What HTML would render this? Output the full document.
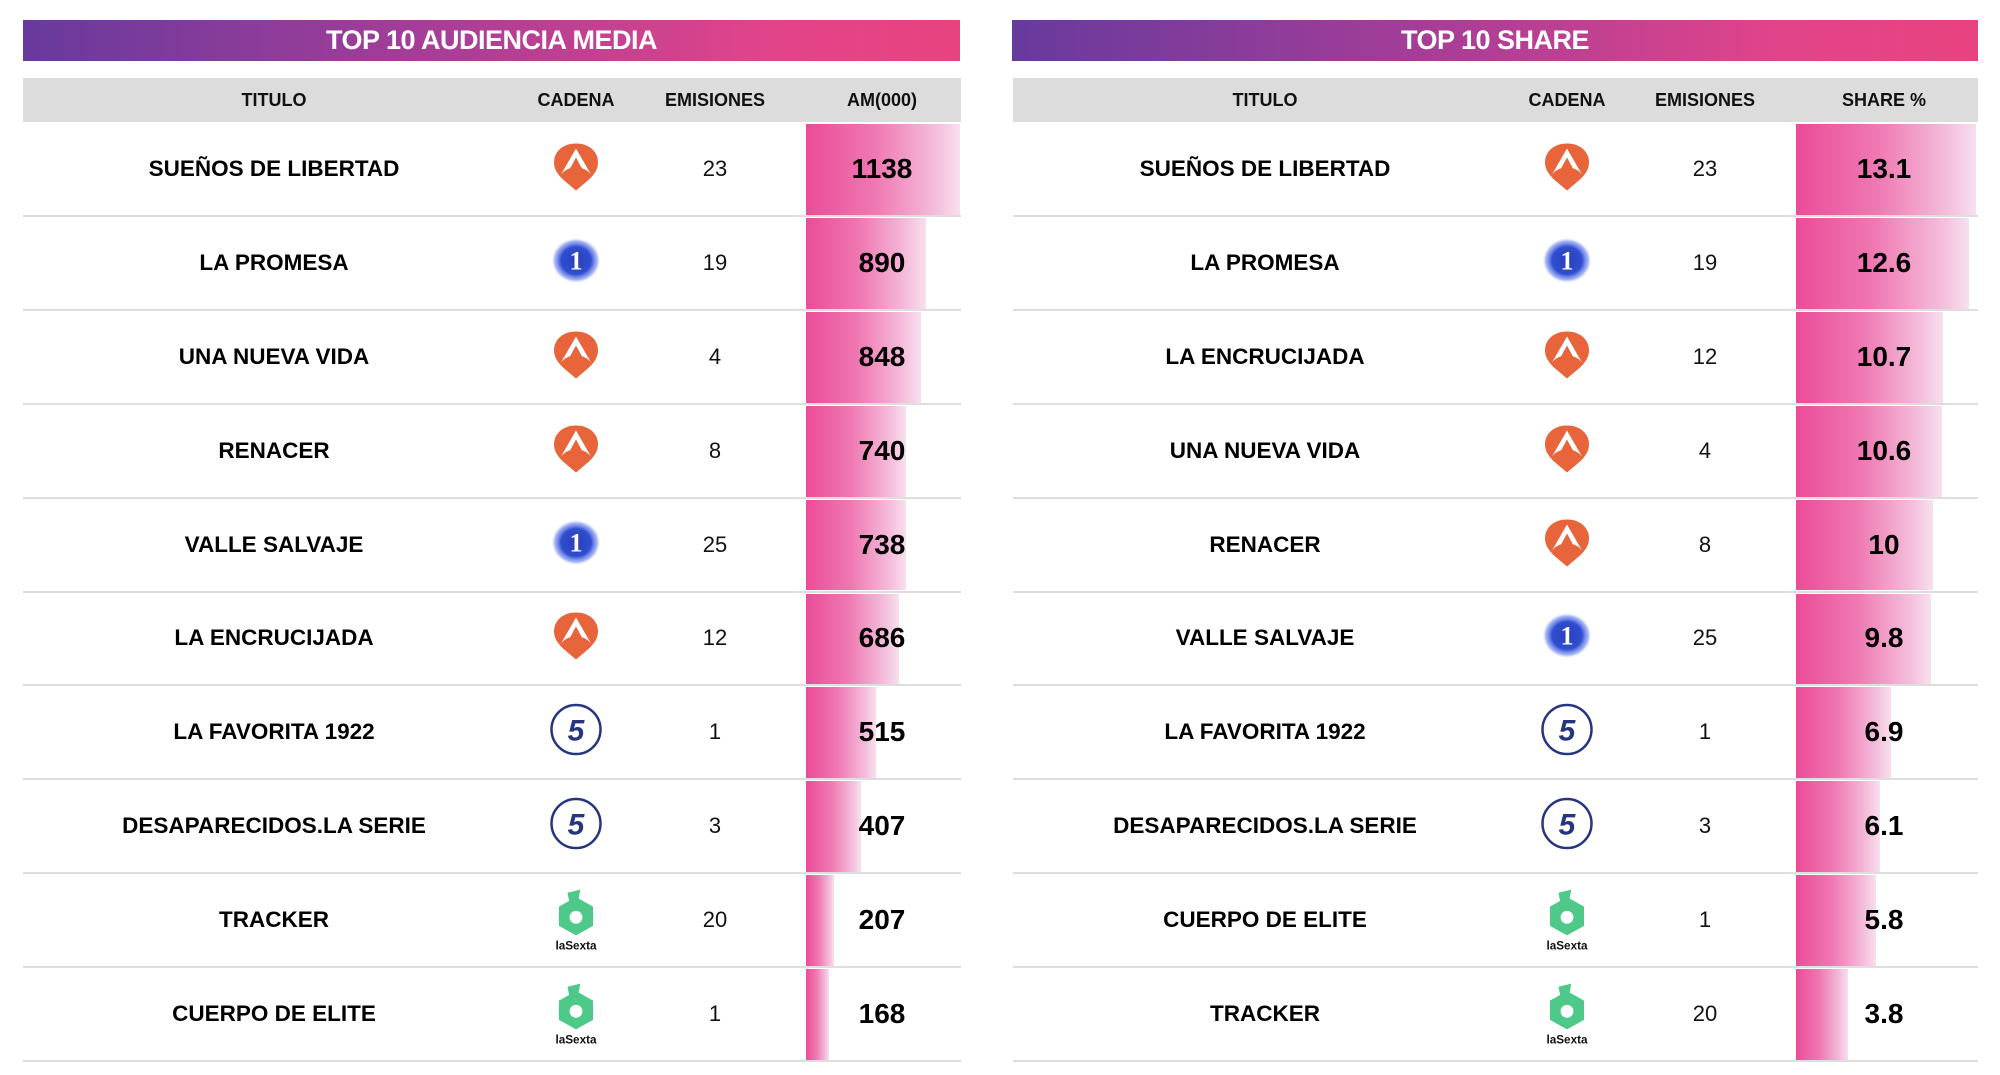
<!DOCTYPE html>
<html><head><meta charset="utf-8"><style>
html,body{margin:0;padding:0;background:#fff;width:2000px;height:1075px;overflow:hidden;font-family:"Liberation Sans",sans-serif;}
.a{position:absolute}
.tb{height:41px;top:20px;background:linear-gradient(90deg,#673a9d 0%,#a13d98 40%,#e2448a 80%,#e8437f 100%);color:#fff;font-weight:bold;font-size:27px;text-align:center;line-height:41px;letter-spacing:-0.5px}
.hd{height:44px;top:78px;background:#dcdcdc}
.hx{font-weight:bold;font-size:18px;color:#111;top:78px;line-height:44px;transform:translateX(-50%);white-space:nowrap}
.sep{height:2px;background:#dedede}
.bar{background:linear-gradient(90deg,#eb4c98 0%,#ef78b2 45%,#f4bfdc 85%,#f8e0ee 100%)}
.t{font-weight:bold;font-size:22.5px;color:#000;transform:translate(-50%,-50%);white-space:nowrap}
.e{font-size:22px;color:#111;transform:translate(-50%,-50%)}
.v{font-weight:bold;font-size:28px;color:#000;transform:translate(-50%,-50%)}
.lg{transform:translate(-50%,-50%)}
</style></head><body>
<div class="a tb" style="left:23px;width:937px">TOP 10 AUDIENCIA MEDIA</div>
<div class="a tb" style="left:1012px;width:966px">TOP 10 SHARE</div>
<div class="a hd" style="left:23px;width:938px"></div>
<div class="a hd" style="left:1013px;width:965px"></div>
<div class="a hx" style="left:274px">TITULO</div>
<div class="a hx" style="left:576px">CADENA</div>
<div class="a hx" style="left:715px">EMISIONES</div>
<div class="a hx" style="left:882px">AM(000)</div>
<div class="a hx" style="left:1265px">TITULO</div>
<div class="a hx" style="left:1567px">CADENA</div>
<div class="a hx" style="left:1705px">EMISIONES</div>
<div class="a hx" style="left:1884px">SHARE %</div>
<div id="c"></div>
<script>
var L=[["SUEÑOS DE LIBERTAD","a3",23,1138],["LA PROMESA","t1",19,890],["UNA NUEVA VIDA","a3",4,848],["RENACER","a3",8,740],["VALLE SALVAJE","t1",25,738],["LA ENCRUCIJADA","a3",12,686],["LA FAVORITA 1922","t5",1,515],["DESAPARECIDOS.LA SERIE","t5",3,407],["TRACKER","l6",20,207],["CUERPO DE ELITE","l6",1,168]];
var R=[["SUEÑOS DE LIBERTAD","a3",23,"13.1",13.1],["LA PROMESA","t1",19,"12.6",12.6],["LA ENCRUCIJADA","a3",12,"10.7",10.7],["UNA NUEVA VIDA","a3",4,"10.6",10.6],["RENACER","a3",8,"10",10],["VALLE SALVAJE","t1",25,"9.8",9.8],["LA FAVORITA 1922","t5",1,"6.9",6.9],["DESAPARECIDOS.LA SERIE","t5",3,"6.1",6.1],["CUERPO DE ELITE","l6",1,"5.8",5.8],["TRACKER","l6",20,"3.8",3.8]];
var gid=0;
function logo(k){
if(k=="a3")return '<svg width="48" height="50" viewBox="0 0 48 50"><path d="M24 2C11 2 2 10 2 21c0 7 4 12 9 17l13 11 13-11c5-5 9-10 9-17C46 10 37 2 24 2z" fill="#e8643a"/><path d="M24 7L9 33c4-5 9-7 15-7s11 2 15 7z" fill="#fff"/><path d="M24 16l-6 11h12z" fill="#e8643a"/></svg>';
if(k=="t1"){gid++;return '<svg width="52" height="48" viewBox="0 0 52 48"><defs><radialGradient id="g'+gid+'" cx="50%" cy="50%" r="50%"><stop offset="0" stop-color="#2a3dbd"/><stop offset=".6" stop-color="#2f4fd0"/><stop offset=".85" stop-color="#6f86f0" stop-opacity=".6"/><stop offset="1" stop-color="#fff" stop-opacity="0"/></radialGradient></defs><ellipse cx="26" cy="24" rx="25" ry="23" fill="url(#g'+gid+')"/><text x="26" y="33" text-anchor="middle" font-family="Liberation Serif,serif" font-weight="bold" font-size="26" fill="#fff">1</text></svg>';}
if(k=="t5")return '<svg width="54" height="54" viewBox="0 0 54 54"><circle cx="27" cy="27" r="24.5" fill="#fff" stroke="#26357e" stroke-width="2.5"/><text x="27" y="38" text-anchor="middle" font-family="Liberation Sans,sans-serif" font-weight="bold" font-style="italic" font-size="30" fill="#26357e">5</text></svg>';
return '<svg width="60" height="64" viewBox="0 0 56 60"><polygon points="28,8 44,17 44,35 28,44 12,35 12,17" fill="#4fc98a"/><polygon points="20,4 32,1 30,12 22,14" fill="#4fc98a"/><circle cx="28" cy="27" r="6" fill="#fff"/><text x="28" y="57" text-anchor="middle" font-family="Liberation Sans,sans-serif" font-weight="bold" font-size="11" fill="#111">laSexta</text></svg>';
}
var H="",RH=93.9,T0=122;
function tab(D,x0,x1,tc,cc,ec,vc,bs,bmax,max,isR){
for(var i=0;i<10;i++){var y=T0+i*RH,cy=y+RH/2,d=D[i];
var val=isR?d[4]:d[3];var w=bmax*val/max;
H+='<div class="a bar" style="left:'+bs+'px;top:'+(y+2)+'px;width:'+w+'px;height:'+(RH-3)+'px"></div>';
H+='<div class="a sep" style="left:'+x0+'px;width:'+(x1-x0)+'px;top:'+(y+RH-1)+'px"></div>';
H+='<div class="a t" style="left:'+tc+'px;top:'+cy+'px">'+d[0]+'</div>';
H+='<div class="a lg" style="left:'+cc+'px;top:'+(cy+(d[1]=="l6"?3:0))+'px">'+logo(d[1])+'</div>';
H+='<div class="a e" style="left:'+ec+'px;top:'+cy+'px">'+d[2]+'</div>';
H+='<div class="a v" style="left:'+vc+'px;top:'+cy+'px">'+d[3]+'</div>';}
}
tab(L,23,961,274,576,715,882,806,154,1138,false);
tab(R,1013,1978,1265,1567,1705,1884,1796,180,13.1,true);
document.getElementById("c").innerHTML=H;
</script>
</body></html>
